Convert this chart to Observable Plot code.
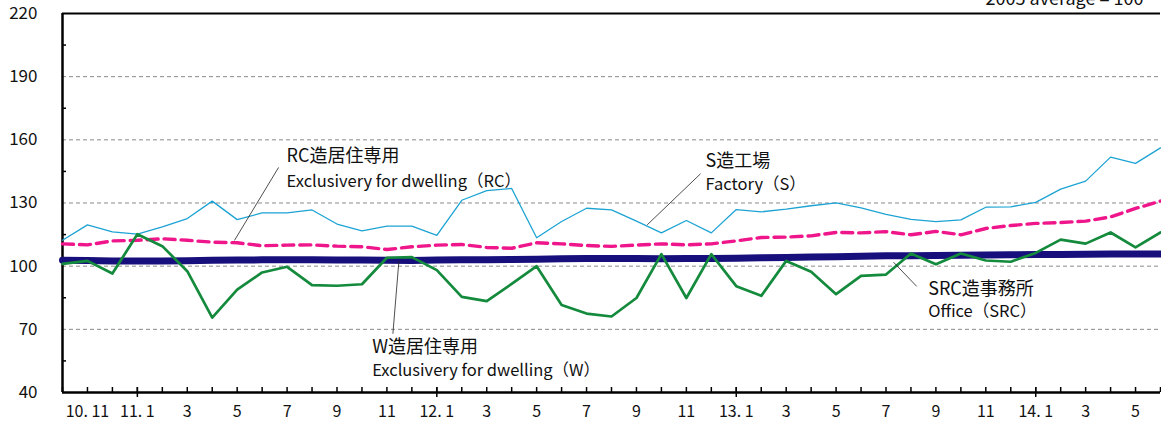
<!DOCTYPE html>
<html>
<head>
<meta charset="utf-8">
<script src="https://cdn.jsdelivr.net/npm/d3@7"></script>
<script src="https://cdn.jsdelivr.net/npm/@observablehq/plot@0.6"></script>
<style>
  html, body { margin: 0; padding: 0; background: #fff; overflow: hidden; }
  #chart svg { display: block; font-family: "Noto Sans CJK JP", "Noto Sans", sans-serif; }
</style>
</head>
<body>
<div id="chart"></div>
<script>
// Months 2010.10 – 2014.6 (index = position on the category axis)
const months = ["10.10","10.11","10.12","11.1","11.2","11.3","11.4","11.5","11.6","11.7","11.8","11.9","11.10","11.11","11.12",
  "12.1","12.2","12.3","12.4","12.5","12.6","12.7","12.8","12.9","12.10","12.11","12.12",
  "13.1","13.2","13.3","13.4","13.5","13.6","13.7","13.8","13.9","13.10","13.11","13.12",
  "14.1","14.2","14.3","14.4","14.5","14.6"];

// S造工場 Factory (S)
const factoryS = [112.3,119.6,116.3,115.2,118.7,122.6,130.9,122.1,125.3,125.3,126.7,120.0,116.8,119.0,119.0,114.6,131.3,135.9,136.9,113.5,121.2,127.5,126.7,121.4,115.8,121.7,115.8,126.9,125.8,127.1,128.7,130.1,127.7,124.6,122.2,121.2,122.0,128.0,128.2,130.3,136.6,140.4,151.8,148.8,156.2];
// RC造居住専用 Exclusivery for dwelling (RC)
const dwellingRC = [110.6,110.1,112.0,112.3,113.0,112.3,111.4,111.1,109.7,110.0,110.1,109.5,109.2,107.9,109.2,110.0,110.3,108.9,108.5,111.1,110.6,109.8,109.4,110.0,110.6,110.1,110.6,112.0,113.6,113.8,114.4,116.0,115.8,116.4,114.9,116.5,114.9,117.9,119.3,120.3,120.7,121.4,123.4,127.4,130.9];
// SRC造事務所 Office (SRC)
const officeSRC = [102.8,102.7,102.5,102.4,102.5,102.6,102.8,102.9,103.0,103.0,103.0,102.9,102.9,102.8,102.7,102.9,103.0,103.1,103.2,103.3,103.5,103.7,103.7,103.6,103.5,103.6,103.7,103.8,104.0,104.1,104.3,104.5,104.7,104.9,105.0,105.1,105.2,105.3,105.4,105.5,105.6,105.7,105.8,105.8,105.8];
// W造居住専用 Exclusivery for dwelling (W)
const dwellingW = [101.1,102.5,96.5,115.2,109.5,97.6,75.6,88.9,97.0,99.7,91.0,90.7,91.4,104.0,104.3,98.1,85.4,83.4,91.6,100.0,81.6,77.5,76.1,84.9,105.7,84.9,105.7,90.5,85.9,102.5,97.3,86.7,95.4,96.0,106.0,100.9,106.0,102.7,102.1,106.3,112.6,110.7,116.0,108.9,116.0];

// Axis tick labels
const yTicks = [40,70,100,130,160,190,220];
const yGrid = [70,100,130,160,190];
const yMinor = [55,85,115,145,175,205];
const xLabelIdx = [1,3,5,7,9,11,13,15,17,19,21,23,25,27,29,31,33,35,37,39,41,43];
const xLabels = ["10. 11","11. 1","3","5","7","9","11","12. 1","3","5","7","9","11","13. 1","3","5","7","9","11","14. 1","3","5"];
const yearStarts = [3,15,27,39];

// Series labels (anchors in data units: month index, index value)
const labelJa = ["RC造居住専用","S造工場","SRC造事務所","W造居住専用"];
const labelEn = ["Exclusivery for dwelling（RC）","Factory（S）","Office（SRC）","Exclusivery for dwelling（W）"];
const labelX = [8.98, 25.77, 34.69, 12.41];
const labelYJa = [152.3, 149.6, 89.1, 61.7];
const labelYEn = [139.9, 138.5, 78.3, 50.3];
const leaders = [
  {x1: 8.66, y1: 146.9, x2: 6.89, y2: 112.2},
  {x1: 25.57, y1: 143.9, x2: 23.43, y2: 119.6},
  {x1: 33.30, y1: 101.9, x2: 34.23, y2: 90.4},
  {x1: 13.24, y1: 67.9, x2: 13.48, y2: 102.4}
];
const note = "2005 average = 100";

const toRows = arr => arr.map((v, i) => ({i, v}));
const labels = labelJa.map((t, k) => ({x: labelX[k], yJa: labelYJa[k], yEn: labelYEn[k], ja: t, en: labelEn[k]}));

const chart = Plot.plot({
  width: 1161,
  height: 425,
  marginLeft: 62,
  marginRight: 1,
  marginTop: 13,
  marginBottom: 33,
  x: {domain: [0, months.length - 1]},
  y: {domain: [40, 220]},
  style: {fontFamily: '"Noto Sans CJK JP", "Noto Sans", sans-serif', color: "#111", background: "#fff"},
  marks: [
    Plot.ruleY(yGrid, {stroke: "#8a8a8a", strokeWidth: 1, strokeDasharray: "4,3"}),
    // y minor ticks (inward)
    Plot.axisY({anchor: "left", ticks: yMinor, tickSize: 4, dx: 4, tickFormat: () => "", label: null, stroke: "#000", strokeWidth: 1.5}),
    // y labels
    Plot.axisY({anchor: "left", ticks: yTicks, tickSize: 0, tickPadding: 25, label: null, fontSize: 17}),
    // x monthly ticks (inward)
    Plot.axisX({anchor: "bottom", ticks: months.map((m, i) => i), tickSize: 5, dy: -5, tickFormat: () => "", label: null, stroke: "#000", strokeWidth: 1.5}),
    Plot.axisX({anchor: "bottom", ticks: yearStarts, tickSize: 10, dy: -5, tickFormat: () => "", label: null, stroke: "#000", strokeWidth: 1.5}),
    Plot.axisX({anchor: "bottom", ticks: xLabelIdx, tickSize: 0, tickPadding: 13, tickFormat: d => xLabels[xLabelIdx.indexOf(d)], label: null, fontSize: 16}),
    // frame
    Plot.ruleY([220], {stroke: "#000", strokeWidth: 2}),
    Plot.ruleY([40], {stroke: "#000", strokeWidth: 2.5}),
    Plot.ruleX([0], {stroke: "#000", strokeWidth: 2.5}),
    // series
    Plot.line(toRows(officeSRC), {x: "i", y: "v", stroke: "#170f7c", strokeWidth: 7}),
    Plot.line(toRows(factoryS), {x: "i", y: "v", stroke: "#1da3d3", strokeWidth: 1.3}),
    Plot.line(toRows(dwellingRC), {x: "i", y: "v", stroke: "#ee168a", strokeWidth: 3.4, strokeDasharray: "11,6"}),
    Plot.line(toRows(dwellingW), {x: "i", y: "v", stroke: "#148a3c", strokeWidth: 2.7}),
    // leaders
    Plot.link(leaders, {x1: "x1", y1: "y1", x2: "x2", y2: "y2", stroke: "#222", strokeWidth: 0.8}),
    // labels
    Plot.text(labels, {x: "x", y: "yJa", text: "ja", textAnchor: "start", fontSize: 18, fill: "#111"}),
    Plot.text(labels, {x: "x", y: "yEn", text: "en", textAnchor: "start", fontSize: 16.5, fill: "#111"}),
    Plot.text([note], {frameAnchor: "top-right", textAnchor: "end", lineAnchor: "bottom", dx: -17, dy: -9, fontSize: 18, fill: "#111"})
  ]
});
document.getElementById("chart").appendChild(chart);
</script>
</body>
</html>
